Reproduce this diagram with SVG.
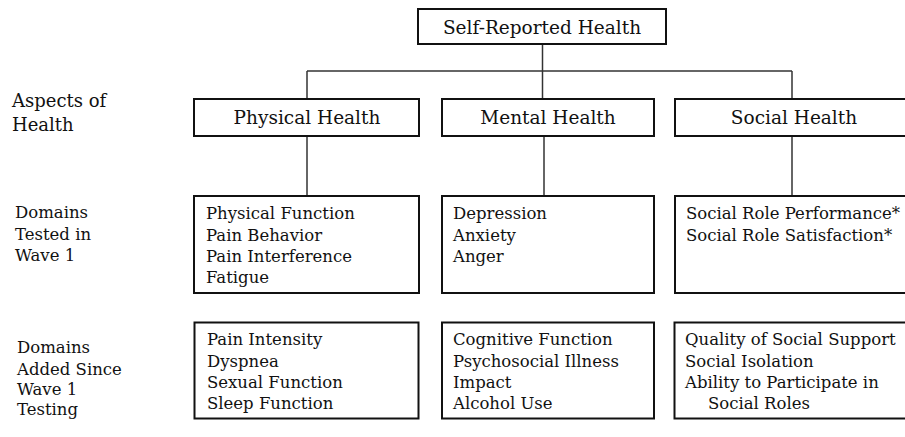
<svg xmlns="http://www.w3.org/2000/svg" width="905" height="437" viewBox="0 0 905 437">
<style>
text{font-family:"DejaVu Serif","Liberation Serif",serif;fill:#111}
.box{fill:#fff;stroke:#111;stroke-width:2}
.hdr{font-size:18.5px;text-anchor:middle}
.top{font-size:18.5px;text-anchor:middle}
.lbl{font-size:18px}
.side{font-size:16.5px}
.body{font-size:16.5px}
.conn line{stroke:#333;stroke-width:1.5}
</style>
<rect width="905" height="437" fill="#fff"/>
<g class="conn" id="connectors">
<line x1="542.5" y1="44" x2="542.5" y2="99"/>
<line x1="307" y1="71" x2="792" y2="71"/>
<line x1="307" y1="71" x2="307" y2="99"/>
<line x1="792" y1="71" x2="792" y2="99"/>
<line x1="307" y1="136" x2="307" y2="196"/>
<line x1="544" y1="136" x2="544" y2="196"/>
<line x1="792" y1="136" x2="792" y2="196"/>
</g>
<g id="side-labels">
<text class="lbl" x="12" y="107">Aspects of</text>
<text class="lbl" x="12" y="131">Health</text>
<text class="side" x="15" y="218">Domains</text>
<text class="side" x="15" y="240">Tested in</text>
<text class="side" x="15" y="261">Wave 1</text>
<text class="side" x="17" y="353">Domains</text>
<text class="side" x="17" y="375">Added Since</text>
<text class="side" x="17" y="395">Wave 1</text>
<text class="side" x="17" y="415">Testing</text>
</g>
<g id="self-reported">
<rect class="box" x="418" y="9" width="248" height="35"/>
<text class="top" x="542" y="33.5">Self-Reported Health</text>
</g>
<g id="physical-health">
<rect class="box" x="194" y="99" width="225" height="37"/>
<text class="hdr" x="307" y="124">Physical Health</text>
</g>
<g id="mental-health">
<rect class="box" x="442" y="99" width="212" height="37"/>
<text class="hdr" x="548" y="124">Mental Health</text>
</g>
<g id="social-health">
<rect class="box" x="675" y="99" width="240" height="37"/>
<text class="hdr" x="794" y="124">Social Health</text>
</g>
<g id="physical-wave1">
<rect class="box" x="194" y="196" width="225" height="97"/>
<text class="body" x="206" y="219">Physical Function</text>
<text class="body" x="206" y="240.5">Pain Behavior</text>
<text class="body" x="206" y="262">Pain Interference</text>
<text class="body" x="206" y="283">Fatigue</text>
</g>
<g id="mental-wave1">
<rect class="box" x="442" y="196" width="212" height="97"/>
<text class="body" x="453" y="219">Depression</text>
<text class="body" x="453" y="240.5">Anxiety</text>
<text class="body" x="453" y="262">Anger</text>
</g>
<g id="social-wave1">
<rect class="box" x="675" y="196" width="240" height="97"/>
<text class="body" x="686" y="219">Social Role Performance*</text>
<text class="body" x="686" y="240.5">Social Role Satisfaction*</text>
</g>
<g id="physical-added">
<rect class="box" x="194.5" y="322.5" width="224" height="96"/>
<text class="body" x="207" y="345">Pain Intensity</text>
<text class="body" x="207" y="367">Dyspnea</text>
<text class="body" x="207" y="388">Sexual Function</text>
<text class="body" x="207" y="409">Sleep Function</text>
</g>
<g id="mental-added">
<rect class="box" x="442" y="322.5" width="212" height="96"/>
<text class="body" x="453" y="345">Cognitive Function</text>
<text class="body" x="453" y="367">Psychosocial Illness</text>
<text class="body" x="453" y="388">Impact</text>
<text class="body" x="453" y="409">Alcohol Use</text>
</g>
<g id="social-added">
<rect class="box" x="674.5" y="322.5" width="240" height="96"/>
<text class="body" x="685" y="345">Quality of Social Support</text>
<text class="body" x="685" y="367">Social Isolation</text>
<text class="body" x="685" y="388">Ability to Participate in</text>
<text class="body" x="708" y="409">Social Roles</text>
</g>
</svg>
